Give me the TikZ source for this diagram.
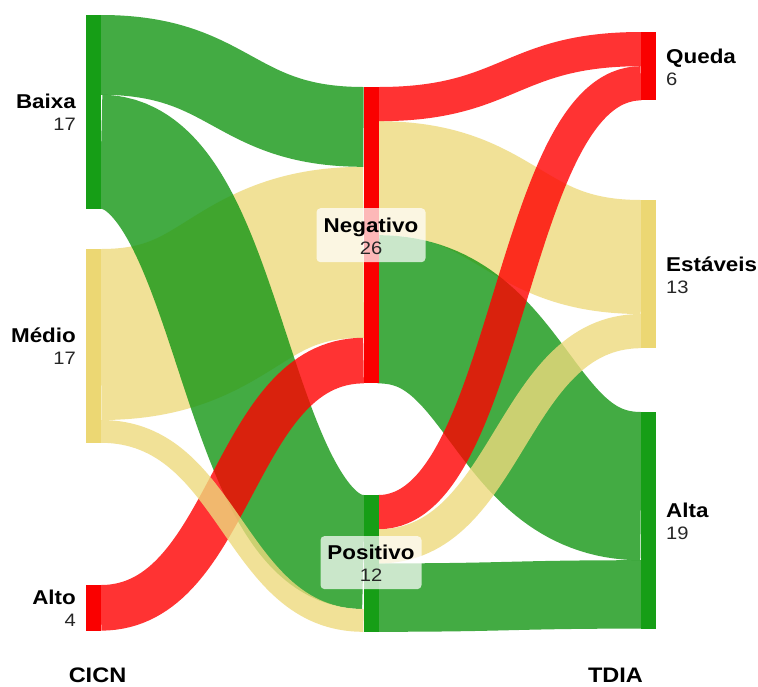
\documentclass[tikz,border=0pt]{standalone}
\usepackage{fontspec}
\setmainfont{Liberation Sans}
\usepackage{graphicx}
\usetikzlibrary{calc}
\definecolor{gnode}{RGB}{22,158,22}
\definecolor{gflow}{RGB}{20,150,20}
\definecolor{rnode}{RGB}{250,0,0}
\definecolor{rflow}{RGB}{255,0,0}
\definecolor{ynode}{RGB}{236,215,115}
\definecolor{yflow}{RGB}{238,218,125}
\pgfdeclarelayer{bg}
\pgfsetlayers{bg,main}
\newcommand\wide[1]{\scalebox{1.12}[1]{#1}}
\newcommand\flowband[6]{%
  \path ([yshift={-(#2+#5/2)*11.4pt}]#1.north east) coordinate (p)
        ([yshift={-(#4+#5/2)*11.4pt}]#3.north west) coordinate (q);
  \draw[flowstyle, draw=#6, line width={(#5)*11.4pt}] (p) .. controls ([xshift=131.25pt]p) and ([xshift=-131.25pt]q) .. (q);}
\tikzset{
  barnode/.style={rectangle, inner sep=0pt, outer sep=0pt, minimum width=15pt, anchor=north west, draw=none},
  flowstyle/.style={draw opacity=0.8, line cap=butt},
  nm/.style={font=\fontsize{20}{24}\selectfont\bfseries, inner sep=0pt, text=black},
  num/.style={font=\fontsize{18}{22}\selectfont, inner sep=0pt, text=black!85},
  axisname/.style={font=\fontsize{21}{25}\selectfont\bfseries, inner sep=0pt, anchor=base},
  labelbox/.style={rectangle, rounded corners=4pt, fill=white, fill opacity=0.72, draw=none, inner sep=0pt}
}
\begin{document}
\begin{tikzpicture}
\useasboundingbox (0pt,0pt) rectangle (758pt,-686pt);
\begin{pgfonlayer}{bg}
\fill[white] (0pt,0pt) rectangle (758pt,-686pt);
\end{pgfonlayer}
% nodes
\node[barnode, fill=gnode, minimum height=193.8pt] (baixa) at (86pt,-15pt) {};
\node[barnode, fill=ynode, minimum height=193.8pt] (medio) at (86pt,-249pt) {};
\node[barnode, fill=rnode, minimum height=45.6pt] (alto) at (86pt,-585pt) {};
\node[barnode, fill=rnode, minimum height=296.4pt] (negativo) at (363.5pt,-87pt) {};
\node[barnode, fill=gnode, minimum height=136.8pt] (positivo) at (363.5pt,-495pt) {};
\node[barnode, fill=rnode, minimum height=68.4pt] (queda) at (641pt,-32pt) {};
\node[barnode, fill=ynode, minimum height=148.2pt] (estaveis) at (641pt,-200pt) {};
\node[barnode, fill=gnode, minimum height=216.6pt] (alta) at (641pt,-412pt) {};
% flows
\begin{pgfonlayer}{bg}
\flowband{medio}{0}{negativo}{7}{15}{yflow}
\flowband{baixa}{0}{negativo}{0}{7}{gflow}
\flowband{baixa}{7}{positivo}{0}{10}{gflow}
\flowband{alto}{0}{negativo}{22}{4}{rflow}
\flowband{medio}{15}{positivo}{10}{2}{yflow}
\flowband{negativo}{3}{estaveis}{0}{10}{yflow}
\flowband{negativo}{13}{alta}{0}{13}{gflow}
\flowband{negativo}{0}{queda}{0}{3}{rflow}
\flowband{positivo}{6}{alta}{13}{6}{gflow}
\flowband{positivo}{0}{queda}{3}{3}{rflow}
\flowband{positivo}{3}{estaveis}{10}{3}{yflow}
\end{pgfonlayer}
% left labels
\node[nm, anchor=base east] (baixaN) at ([xshift=-10pt,yshift=3pt]baixa.west) {\wide{Baixa}};
\node[num, anchor=base east] (baixaV) at ([xshift=-10pt,yshift=-19pt]baixa.west) {\wide{17}};
\node[nm, anchor=base east] (medioN) at ([xshift=-10pt,yshift=3pt]medio.west) {\wide{Médio}};
\node[num, anchor=base east] (medioV) at ([xshift=-10pt,yshift=-19pt]medio.west) {\wide{17}};
\node[nm, anchor=base east] (altoN) at ([xshift=-10pt,yshift=3pt]alto.west) {\wide{Alto}};
\node[num, anchor=base east] (altoV) at ([xshift=-10pt,yshift=-19pt]alto.west) {\wide{4}};
% right labels
\node[nm, anchor=base west] (quedaN) at ([xshift=10pt,yshift=3pt]queda.east) {\wide{Queda}};
\node[num, anchor=base west] (quedaV) at ([xshift=10pt,yshift=-19pt]queda.east) {\wide{6}};
\node[nm, anchor=base west] (estaveisN) at ([xshift=10pt,yshift=3pt]estaveis.east) {\wide{Estáveis}};
\node[num, anchor=base west] (estaveisV) at ([xshift=10pt,yshift=-19pt]estaveis.east) {\wide{13}};
\node[nm, anchor=base west] (altaN) at ([xshift=10pt,yshift=3pt]alta.east) {\wide{Alta}};
\node[num, anchor=base west] (altaV) at ([xshift=10pt,yshift=-19pt]alta.east) {\wide{19}};
% middle labels
\node[labelbox, minimum width=109pt, minimum height=54pt] (negbox) at (negativo.center) {};
\node[nm, anchor=base] (negN) at ([yshift=3pt]negbox.center) {\wide{Negativo}};
\node[num, anchor=base] (negV) at ([yshift=-19pt]negbox.center) {\wide{26}};
\node[labelbox, minimum width=101pt, minimum height=53pt] (posbox) at ([yshift=0.8pt]positivo.center) {};
\node[nm, anchor=base] (posN) at ([yshift=3pt]posbox.center) {\wide{Positivo}};
\node[num, anchor=base] (posV) at ([yshift=-19pt]posbox.center) {\wide{12}};
% axis names
\node[axisname] (cicn) at (97.5pt,-682pt) {\wide{CICN}};
\node[axisname] (tdia) at (615.5pt,-682pt) {\wide{TDIA}};
\end{tikzpicture}
\end{document}
